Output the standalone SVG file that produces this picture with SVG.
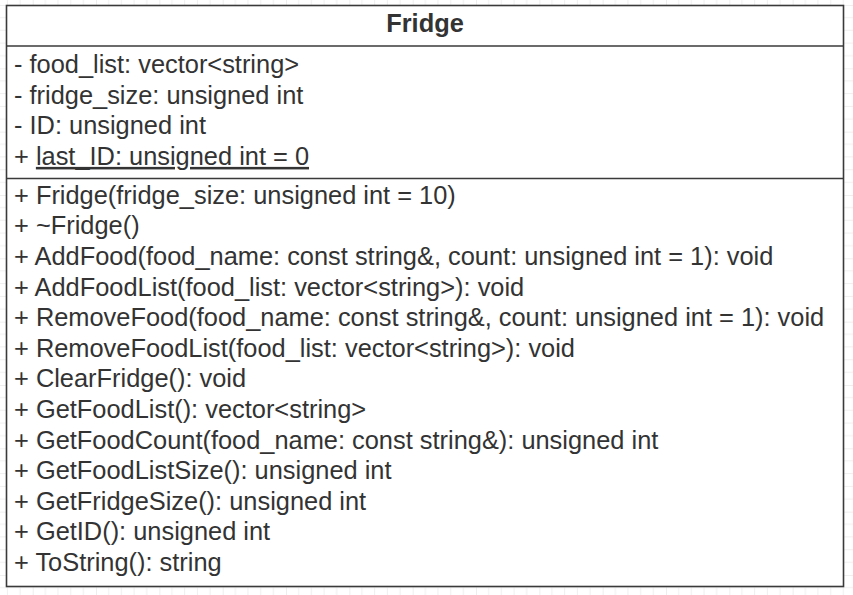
<svg xmlns="http://www.w3.org/2000/svg" width="853" height="595" viewBox="0 0 853 595">
  <defs>
    <!-- background grid: minor every 12.67px, major every 63.33px -->
    <pattern id="grid" patternUnits="userSpaceOnUse" x="32.7" y="5" width="63.33" height="63.33">
      <path d="M12.67 0V63.33M25.33 0V63.33M38 0V63.33M50.67 0V63.33M0 12.67H63.33M0 25.33H63.33M0 38H63.33M0 50.67H63.33" stroke="#efefef" stroke-width="1" fill="none"/>
      <path d="M0 0V63.33M0 0H63.33" stroke="#dedede" stroke-width="1" fill="none"/>
    </pattern>
    <style>
      .box { fill: #ffffff; stroke: #3a3a3a; stroke-width: 1.6; }
      .sep { stroke: #3a3a3a; stroke-width: 1.6; }
      .title { font-family: "Liberation Sans", Arial, sans-serif; font-size: 25.4px; font-weight: bold; fill: #333333; text-anchor: middle; }
      .row { font-family: "Liberation Sans", Arial, sans-serif; font-size: 25.4px; fill: #333333; }
    </style>
  </defs>

  <rect x="0" y="0" width="853" height="595" fill="#ffffff"/>
  <rect x="0" y="0" width="853" height="595" fill="url(#grid)"/>

  <g id="fridge-class">
    <rect class="box" x="6.5" y="5.5" width="837" height="581"/>
    <line class="sep" x1="6.5" y1="46" x2="843.5" y2="46"/>
    <line class="sep" x1="6.5" y1="178.5" x2="843.5" y2="178.5"/>

    <text class="title" x="425" y="31.5">Fridge</text>

    <!-- attributes -->
    <text class="row" x="14" y="72.8">- food_list: vector&lt;string&gt;</text>
    <text class="row" x="14" y="103.5">- fridge_size: unsigned int</text>
    <text class="row" x="14" y="134.2">- ID: unsigned int</text>
    <text class="row" x="14" y="164.9">+ <tspan text-decoration="underline">last_ID: unsigned int = 0</tspan></text>

    <!-- operations -->
    <text class="row" x="14" y="203.8">+ Fridge(fridge_size: unsigned int = 10)</text>
    <text class="row" x="14" y="234.4">+ ~Fridge()</text>
    <text class="row" x="14" y="265">+ AddFood(food_name: const string&amp;, count: unsigned int = 1): void</text>
    <text class="row" x="14" y="295.6">+ AddFoodList(food_list: vector&lt;string&gt;): void</text>
    <text class="row" x="14" y="326.2">+ RemoveFood(food_name: const string&amp;, count: unsigned int = 1): void</text>
    <text class="row" x="14" y="356.8">+ RemoveFoodList(food_list: vector&lt;string&gt;): void</text>
    <text class="row" x="14" y="387.4">+ ClearFridge(): void</text>
    <text class="row" x="14" y="418">+ GetFoodList(): vector&lt;string&gt;</text>
    <text class="row" x="14" y="448.6">+ GetFoodCount(food_name: const string&amp;): unsigned int</text>
    <text class="row" x="14" y="479.2">+ GetFoodListSize(): unsigned int</text>
    <text class="row" x="14" y="509.8">+ GetFridgeSize(): unsigned int</text>
    <text class="row" x="14" y="540.4">+ GetID(): unsigned int</text>
    <text class="row" x="14" y="571">+ ToString(): string</text>
  </g>

  <g id="connectors"/>
</svg>
